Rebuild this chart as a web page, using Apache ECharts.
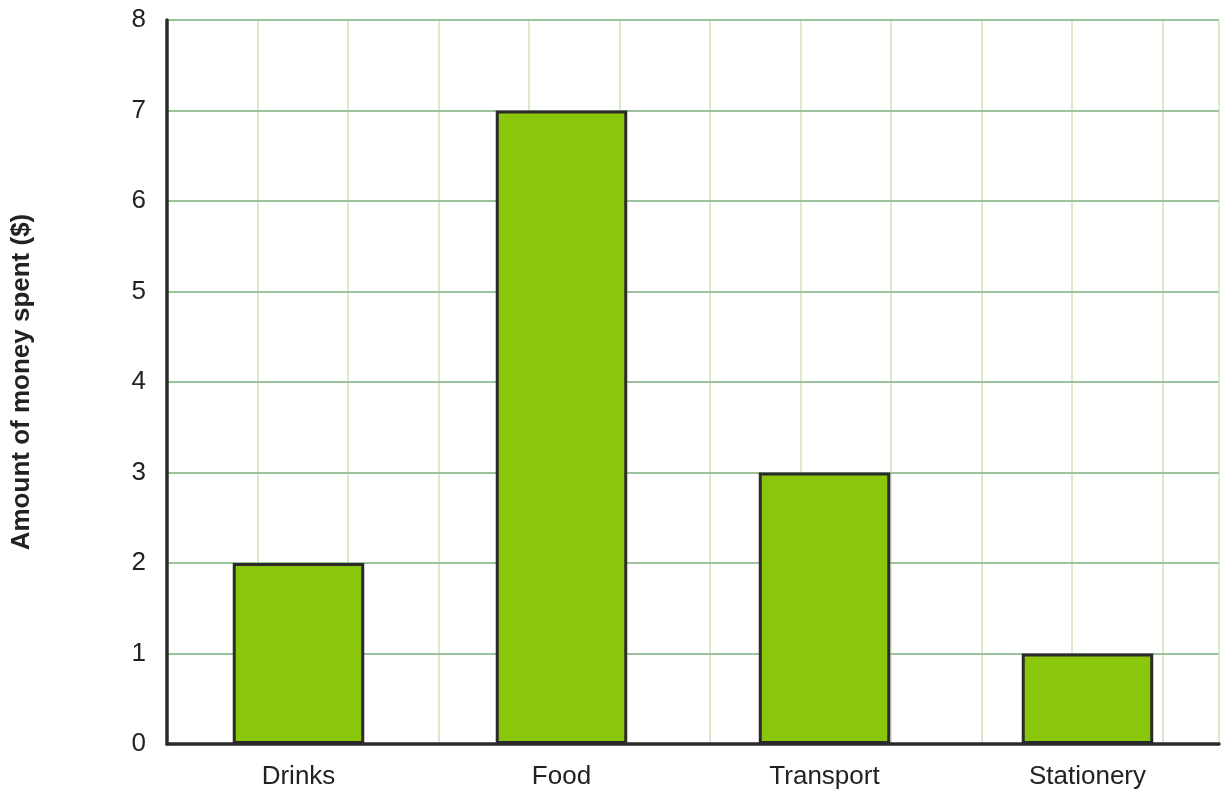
<!DOCTYPE html>
<html>
<head>
<meta charset="utf-8">
<script src="https://cdn.jsdelivr.net/npm/echarts@6/dist/echarts.min.js"></script>
<style>html,body{margin:0;padding:0;background:#fff;}#c{width:1229px;height:799px;}</style>
</head>
<body>
<div id="c"></div>
<script>
const categories = ["Drinks", "Food", "Transport", "Stationery"];
const amounts = [2, 7, 3, 1];
const yTicks = [0, 1, 2, 3, 4, 5, 6, 7, 8];
const yAxisTitle = "Amount of money spent ($)";

const chart = echarts.init(document.getElementById('c'));
const gridLeft = 167, gridRight = 10, gridTop = 20, gridBottom = 55;
const plotW = 1229 - gridLeft - gridRight;
const plotH = 799 - gridTop - gridBottom;
const unitPx = plotH / (yTicks[yTicks.length - 1] - yTicks[0]);
const FONT = 'Liberation Sans, Arial, sans-serif';
chart.setOption({
  animation: false,
  grid: { left: gridLeft, right: gridRight, top: gridTop, bottom: gridBottom, containLabel: false },
  xAxis: [
    {
      type: 'category', data: categories, position: 'bottom', z: 6,
      axisLine: { show: true, lineStyle: { color: '#2b2b2b', width: 3.5 } },
      axisTick: { show: false },
      axisLabel: { color: '#222', fontSize: 26, fontFamily: FONT, margin: 20 },
      splitLine: { show: false }
    },
    {
      type: 'value', min: 0, max: plotW / unitPx, interval: 1, position: 'top',
      axisLine: { show: false }, axisTick: { show: false }, axisLabel: { show: false },
      splitLine: { show: true, lineStyle: { color: '#d9ebcf', width: 2 } }
    }
  ],
  yAxis: {
    type: 'value', min: yTicks[0], max: yTicks[yTicks.length - 1], interval: 1,
    name: yAxisTitle, nameLocation: 'middle', nameGap: 132, nameRotate: 90,
    nameTextStyle: { color: '#222', fontSize: 26, fontWeight: 'bold', fontFamily: FONT },
    axisLine: { show: true, lineStyle: { color: '#2b2b2b', width: 3.5 } },
    axisTick: { show: false },
    axisLabel: { color: '#222', fontSize: 26, fontFamily: FONT, margin: 21 },
    splitLine: { show: true, lineStyle: { color: '#9cc39c', width: 2 } },
    z: 3
  },
  series: [{
    type: 'bar', data: amounts, xAxisIndex: 0, barWidth: '50%',
    itemStyle: { color: '#8ac70a', borderColor: '#2b2b2b', borderWidth: 3 },
    z: 4
  }]
});
</script>
</body>
</html>
